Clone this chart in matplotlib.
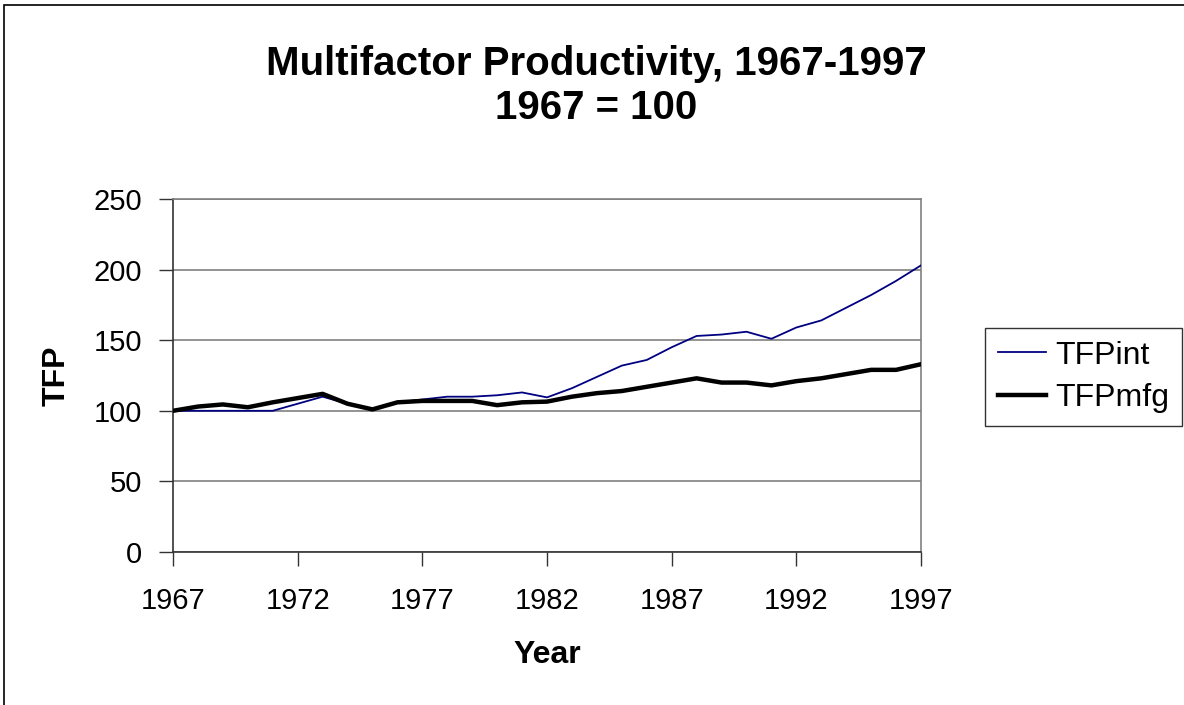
import numpy as np
import matplotlib
matplotlib.use("Agg")
import matplotlib.pyplot as plt
from matplotlib.patches import Rectangle

plt.rcParams['font.family'] = ['Liberation Sans', 'DejaVu Sans']

# data
years = list(range(1967, 1998))
tfp_int = [100, 100, 100, 100, 100, 105, 110, 105, 101, 106,
           108, 110, 110, 111, 113, 109.5, 116, 124, 132, 136,
           145, 153, 154, 156, 151, 159, 164, 173, 182, 192, 203]
tfp_mfg = [100, 103, 104.5, 102.5, 106, 109, 112, 105, 101, 106,
           107, 107, 107, 104, 106, 106.5, 110, 112.5, 114, 117,
           120, 123, 120, 120, 118, 121, 123, 126, 129, 129, 133]
x_ticks = [1967, 1972, 1977, 1982, 1987, 1992, 1997]
y_ticks = [0, 50, 100, 150, 200, 250]

W, H = 1184, 705
fig = plt.figure(figsize=(W / 100, H / 100), dpi=100)
ax = fig.add_axes([173 / W, 1 - 552 / H, (921 - 173) / W, (552 - 199) / H])

# outer chart border (only top and left visible)
fig.patches.append(Rectangle((4 / W, -0.1), 2, 1.1 - 5 / H, transform=fig.transFigure,
                             fill=False, edgecolor='black', linewidth=1.2))

ax.plot(years, tfp_int, color='#000080', linewidth=1.3, label='TFPint', zorder=3)
ax.plot(years, tfp_mfg, color='black', linewidth=3.2, label='TFPmfg', zorder=4)

ax.set_xlim(1967, 1997)
ax.set_ylim(0, 250)
ax.set_xticks(x_ticks)
ax.set_yticks(y_ticks)
ax.tick_params(labelsize=21, direction='out', length=10, width=1, color='#333333')
ax.tick_params(axis='x', pad=15)
ax.tick_params(axis='y', pad=12)
ax.grid(axis='y', color='#808080', linewidth=1.2)
ax.set_axisbelow(True)
for s in ['top', 'right']:
    ax.spines[s].set_color('#808080')
    ax.spines[s].set_linewidth(1.2)
for s in ['left', 'bottom']:
    ax.spines[s].set_color('#333333')
    ax.spines[s].set_linewidth(1.2)

ax.set_xlabel('Year', fontsize=23, fontweight='bold', labelpad=18)
ax.set_ylabel('TFP', fontsize=23, fontweight='bold', labelpad=16)

fig.text(596 / W, 1 - 86 / H, 'Multifactor Productivity, 1967-1997\n1967 = 100',
         ha='center', va='center', fontsize=29, fontweight='bold', linespacing=1.2)

leg = ax.legend(loc='center left', bbox_to_anchor=(985 / W, 1 - 377 / H),
                bbox_transform=fig.transFigure, fontsize=23, frameon=True,
                fancybox=False, edgecolor='black', handlelength=1.5,
                handletextpad=0.3, borderpad=0.4, labelspacing=0.4, borderaxespad=0)
leg.get_frame().set_linewidth(1.0)

fig.savefig('out.png', dpi=100)
